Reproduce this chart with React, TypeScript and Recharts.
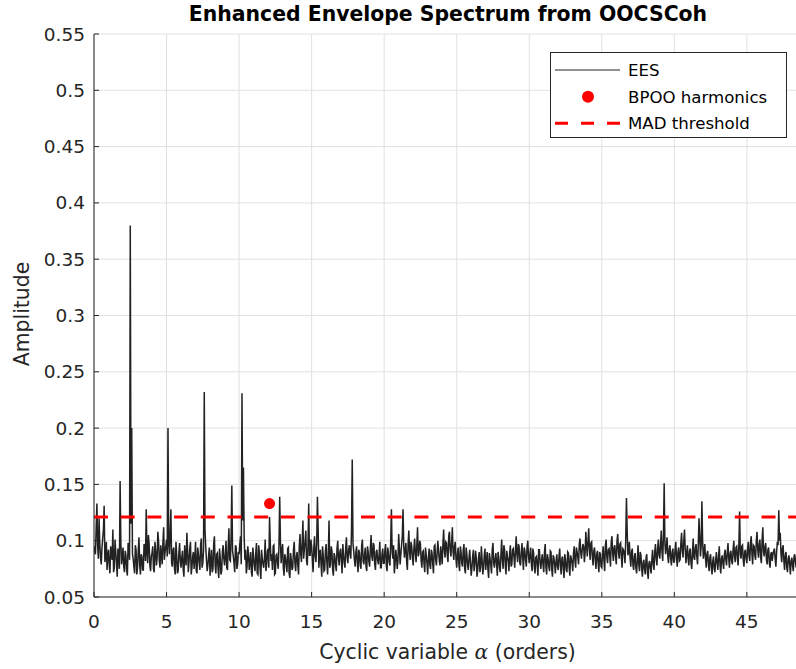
import React from 'react';
import { ComposedChart, Line, Scatter, XAxis, YAxis, CartesianGrid } from 'recharts';

// Enhanced envelope spectrum amplitude (x1000).
// "ees" arrays: samples at start + i*0.1 ; "eesMid" arrays: samples at start + i*0.1 + 0.05
const alphaStep = 0.1;
const ees0to10 = [
  95, 88, 133, 84, 97, 79, 102, 131, 86, 74,
  92, 71, 88, 110, 76, 90, 68, 85, 153, 79,
  94, 72, 87, 69, 96, 380, 200, 84, 71, 92,
  76, 103, 70, 86, 74, 95, 128, 80, 97, 73,
  89, 75, 99, 78, 108, 82, 96, 79, 112, 90,
  101, 200, 88, 128, 77, 94, 70, 87, 73, 98,
  76, 91, 68, 84, 107, 72, 93, 70, 86, 75,
  99, 71, 88, 74, 102, 80, 232, 95, 73, 87,
  69, 92, 75, 104, 71, 89, 67, 85, 73, 96,
  78, 100, 74, 111, 82, 149, 86, 72, 94, 79,
];
const eesMid0to10 = [
  90, 112, 96, 120, 85, 94, 110, 81, 99, 88,
  78, 95, 83, 72, 101, 80, 93, 75, 99, 86,
  77, 91, 74, 98, 83, 115, 88, 77, 96, 70,
  91, 79, 88, 74, 97, 82, 90, 105, 78, 86,
  95, 72, 91, 84, 100, 76, 88, 98, 83, 95,
  86, 97, 108, 80, 92, 75, 99, 71, 89, 82,
  85, 74, 96, 78, 92, 81, 99, 76, 90, 84,
  73, 94, 80, 97, 76, 91, 110, 83, 78, 94,
  82, 72, 97, 78, 88, 75, 93, 70, 90, 84,
  87, 76, 95, 83, 104, 91, 80, 96, 75, 90,
];
const ees10to20 = [
  88, 104, 231, 165, 83, 71, 95, 74, 90, 68,
  86, 73, 98, 70, 89, 66, 84, 76, 101, 79,
  93, 121, 82, 74, 96, 71, 88, 75, 139, 80,
  97, 69, 85, 72, 94, 67, 83, 76, 99, 73,
  90, 70, 106, 81, 118, 92, 109, 78, 133, 87,
  95, 72, 104, 81, 139, 76, 92, 68, 87, 74,
  97, 70, 118, 79, 91, 69, 86, 73, 100, 78,
  93, 71, 88, 76, 103, 80, 96, 84, 172, 91,
  77, 95, 72, 89, 75, 101, 79, 94, 73, 90,
  77, 105, 82, 96, 74, 92, 79, 99, 76, 93,
];
const eesMid10to20 = [
  97, 79, 118, 104, 92, 77, 88, 81, 72, 94,
  78, 89, 71, 96, 75, 92, 79, 85, 73, 90,
  76, 98, 88, 95, 70, 87, 80, 96, 100, 91,
  76, 88, 78, 93, 71, 89, 74, 92, 80, 86,
  78, 95, 88, 99, 84, 100, 82, 96, 87, 101,
  84, 93, 86, 97, 110, 88, 79, 95, 73, 91,
  81, 88, 76, 95, 74, 89, 78, 93, 84, 90,
  82, 97, 80, 94, 85, 92, 88, 110, 98, 83,
  90, 80, 92, 78, 96, 82, 88, 77, 95, 81,
  94, 86, 98, 79, 90, 83, 87, 76, 88, 80,
];
const ees20to30 = [
  80, 97, 73, 88, 78, 128, 84, 71, 92, 75,
  106, 79, 96, 128, 85, 98, 74, 109, 83, 95,
  78, 102, 81, 112, 89, 97, 76, 91, 72, 87,
  70, 93, 75, 89, 71, 96, 78, 100, 82, 95,
  79, 110, 85, 98, 81, 108, 86, 112, 83, 99,
  76, 94, 73, 90, 77, 97, 71, 88, 74, 92,
  69, 86, 73, 91, 68, 84, 72, 95, 70, 87,
  74, 90, 67, 84, 71, 98, 76, 89, 69, 85,
  72, 101, 75, 92, 70, 86, 73, 96, 79, 93,
  76, 104, 81, 95, 78, 98, 74, 91, 77, 100,
];
const eesMid20to30 = [
  92, 78, 94, 81, 99, 90, 96, 79, 86, 82,
  93, 88, 104, 95, 92, 81, 97, 90, 99, 85,
  93, 89, 96, 86, 100, 82, 90, 79, 94, 80,
  85, 78, 92, 79, 95, 83, 89, 91, 78, 88,
  97, 91, 99, 87, 104, 92, 98, 90, 95, 84,
  88, 79, 95, 80, 92, 75, 94, 78, 85, 80,
  76, 92, 79, 85, 74, 90, 77, 83, 76, 93,
  82, 75, 89, 78, 92, 80, 84, 79, 90, 76,
  88, 83, 96, 78, 91, 82, 89, 77, 92, 85,
  92, 88, 97, 80, 90, 85, 94, 82, 95, 86,
];
const ees30to40 = [
  80, 94, 73, 89, 71, 86, 69, 92, 75, 88,
  72, 97, 70, 84, 73, 90, 68, 85, 71, 88,
  74, 93, 70, 86, 67, 83, 72, 89, 69, 84,
  73, 95, 76, 90, 79, 102, 84, 97, 81, 108,
  86, 111, 83, 99, 78, 94, 75, 91, 72, 88,
  76, 95, 73, 101, 80, 93, 77, 104, 82, 96,
  79, 106, 84, 98, 76, 92, 80, 138, 87, 99,
  77, 93, 74, 89, 71, 96, 73, 87, 68, 83,
  70, 88, 66, 82, 71, 92, 74, 97, 78, 101,
  84, 109, 82, 151, 88, 103, 80, 96, 78, 93,
];
const eesMid30to40 = [
  88, 79, 93, 77, 85, 78, 92, 80, 83, 79,
  90, 76, 88, 77, 91, 75, 87, 79, 82, 77,
  86, 78, 84, 75, 88, 74, 90, 76, 87, 80,
  89, 82, 94, 85, 97, 90, 92, 95, 89, 96,
  100, 92, 98, 86, 91, 83, 88, 80, 90, 77,
  88, 82, 96, 85, 92, 87, 99, 89, 94, 86,
  100, 90, 97, 85, 93, 88, 100, 109, 91, 85,
  90, 78, 86, 76, 83, 79, 90, 75, 81, 74,
  85, 72, 80, 76, 83, 79, 90, 84, 93, 87,
  97, 90, 105, 98, 95, 86, 93, 84, 90, 81,
];
const ees40to49 = [
  81, 99, 77, 94, 83, 107, 85, 110, 80, 96,
  78, 93, 75, 102, 83, 97, 79, 120, 86, 135,
  84, 97, 76, 91, 73, 88, 70, 86, 72, 90,
  74, 95, 71, 87, 75, 92, 78, 98, 76, 91,
  79, 100, 81, 95, 78, 126, 84, 96, 77, 92,
  80, 99, 82, 104, 79, 95, 83, 108, 85, 101,
  80, 112, 86, 98, 79, 94, 76, 90, 88, 93,
  77, 99, 127, 107, 81, 96, 74, 90, 72, 87,
  70, 85, 73, 88, 76, 91, 78, 95, 80,
];
const eesMid40to49 = [
  92, 85, 90, 82, 98, 91, 100, 93, 89, 84,
  91, 80, 89, 85, 94, 86, 96, 104, 95, 100,
  90, 84, 88, 79, 85, 76, 82, 75, 83, 80,
  86, 78, 84, 80, 88, 83, 90, 84, 89, 82,
  92, 86, 94, 84, 97, 88, 95, 83, 90, 84,
  93, 86, 98, 88, 96, 87, 100, 92, 97, 85,
  101, 90, 95, 83, 92, 80, 88, 82, 91, 84,
  90, 96, 100, 89, 93, 82, 87, 76, 84, 79,
  82, 78, 86, 81, 89, 83, 90, 84,
];
const eesSegmentStarts = [0, 10, 20, 30, 40];
const eesSegments = [ees0to10, ees10to20, ees20to30, ees30to40, ees40to49];
const eesMidSegments = [eesMid0to10, eesMid10to20, eesMid20to30, eesMid30to40, eesMid40to49];

// BPOO harmonic detected
const bpooAlpha = [12.1];
const bpooAmp = [0.133];

// MAD threshold
const madThreshold = 0.121;
const alphaMax = 48.8;

const xTicks = [0, 5, 10, 15, 20, 25, 30, 35, 40, 45];
const yTicks = [0.05, 0.1, 0.15, 0.2, 0.25, 0.3, 0.35, 0.4, 0.45, 0.5, 0.55];

const eesData: { a: number; v: number }[] = [];
eesSegments.forEach((seg, s) => {
  seg.forEach((val, i) => {
    eesData.push({ a: Math.round((eesSegmentStarts[s] + i * alphaStep) * 100) / 100, v: val / 1000 });
  });
});
eesMidSegments.forEach((seg, s) => {
  seg.forEach((val, i) => {
    eesData.push({ a: Math.round((eesSegmentStarts[s] + i * alphaStep + alphaStep / 2) * 100) / 100, v: val / 1000 });
  });
});
eesData.sort((p, q) => p.a - q.a);

const bpooData = bpooAlpha.map((a, i) => ({ a, v: bpooAmp[i] }));
const madData = [
  { a: 0, v: madThreshold },
  { a: alphaMax, v: madThreshold },
];

const FONT = 'DejaVu Sans';
const AX = '#262626';

const Dot = (p: any) => <circle cx={p.cx} cy={p.cy} r={5.5} fill="#ff0000" />;

export default function App() {
  return (
    <div style={{ position: 'absolute', left: 0, top: 0, width: 796, height: 669, overflow: 'hidden', background: '#fff' }}>
      <ComposedChart width={802} height={669} margin={{ top: 34, right: 0, bottom: 32, left: 0 }}>
        <CartesianGrid stroke="#e1e1e1" strokeWidth={1} />
        <XAxis
          dataKey="a"
          type="number"
          domain={[0, alphaMax]}
          ticks={xTicks}
          allowDataOverflow
          height={40}
          stroke={AX}
          tickSize={-5}
          tickMargin={23}
          tick={{ fontFamily: FONT, fontSize: 18.5, fill: AX }}
        />
        <XAxis
          xAxisId="top"
          orientation="top"
          type="number"
          domain={[0, alphaMax]}
          ticks={xTicks}
          height={0}
          stroke={AX}
          tickSize={-5}
          tick={false}
        />
        <YAxis
          type="number"
          domain={[0.05, 0.55]}
          ticks={yTicks}
          allowDataOverflow
          width={94}
          stroke={AX}
          tickSize={-5}
          tickMargin={14}
          tick={{ fontFamily: FONT, fontSize: 18.5, fill: AX }}
        />
        <Line
          data={eesData}
          dataKey="v"
          stroke="#222222"
          strokeWidth={1.5}
          strokeLinejoin="miter"
          dot={false}
          activeDot={false}
          isAnimationActive={false}
        />
        <Scatter data={bpooData} dataKey="v" fill="#ff0000" shape={Dot} isAnimationActive={false} />
        <Line
          data={madData}
          dataKey="v"
          stroke="#ff0000"
          strokeWidth={3}
          strokeDasharray="14 12.7"
          dot={false}
          activeDot={false}
          isAnimationActive={false}
        />
      </ComposedChart>
      <svg
        width={796}
        height={669}
        style={{ position: 'absolute', left: 0, top: 0, pointerEvents: 'none' }}
        fontFamily={FONT}
      >
        <text x={448} y={21} textAnchor="middle" fontSize={20.4} fontWeight="bold" fill="#000">
          Enhanced Envelope Spectrum from OOCSCoh
        </text>
        <text x={447.5} y={659} textAnchor="middle" fontSize={20.4} fill={AX}>
          Cyclic variable{' '}
          <tspan fontFamily="DejaVu Serif" fontStyle="italic">α</tspan> (orders)
        </text>
        <text transform="translate(29,314) rotate(-90)" textAnchor="middle" fontSize={20.4} fill={AX}>
          Amplitude
        </text>
        <rect x={550.5} y={52.5} width={236} height={85} fill="#fff" stroke={AX} strokeWidth={1} />
        <line x1={555} x2={620} y1={70} y2={70} stroke="#222222" strokeWidth={1} />
        <text x={628} y={70} dy="0.35em" fontSize={16.6} fill="#000">EES</text>
        <circle cx={588} cy={96.7} r={6} fill="#ff0000" />
        <text x={628} y={96.7} dy="0.35em" fontSize={16.6} fill="#000">BPOO harmonics</text>
        <line x1={555} x2={620} y1={123.3} y2={123.3} stroke="#ff0000" strokeWidth={3} strokeDasharray="13 13" />
        <text x={628} y={123.3} dy="0.35em" fontSize={16.6} fill="#000">MAD threshold</text>
      </svg>
    </div>
  );
}
